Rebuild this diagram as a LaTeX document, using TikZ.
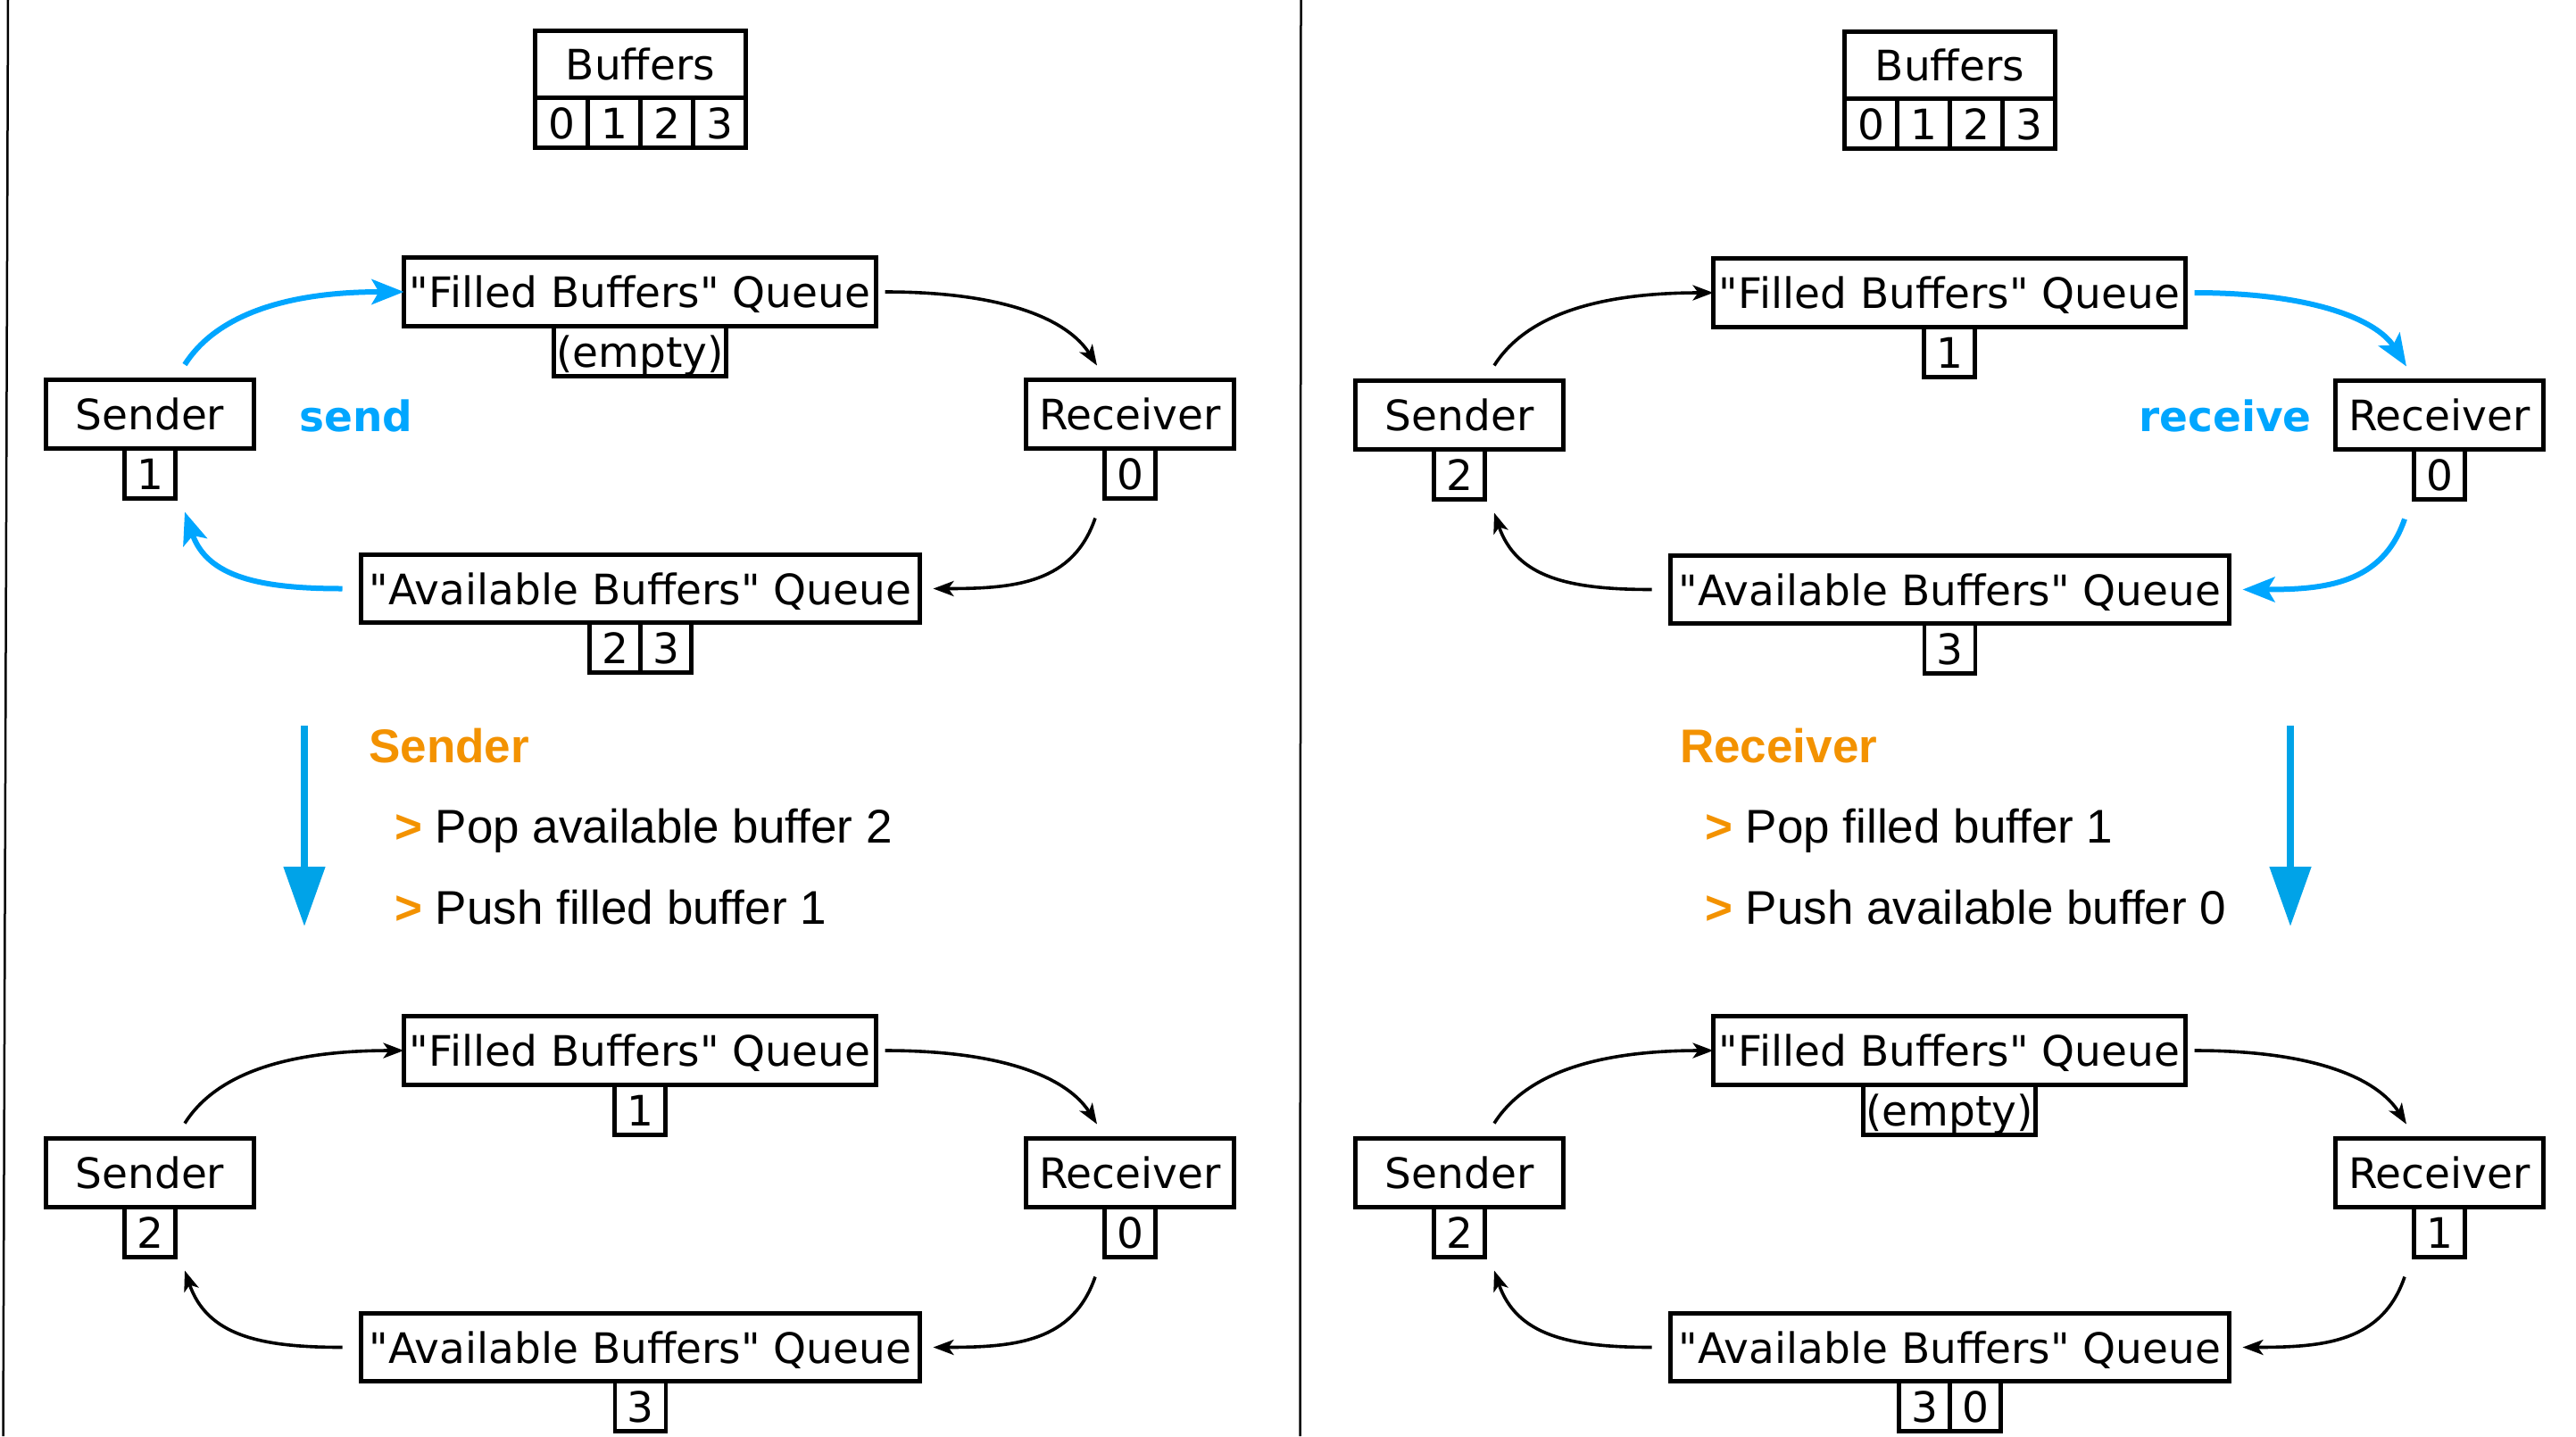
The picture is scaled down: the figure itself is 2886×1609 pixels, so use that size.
\documentclass[tikz,border=0pt]{standalone}
\usepackage{fontspec}
\setmainfont{DejaVu Sans}[Ligatures=TeXOff]
\newfontfamily\dvs{DejaVu Sans}[Ligatures=TeXOff]
\newfontfamily\arialf{Liberation Sans}[Ligatures=TeXOff]
\usetikzlibrary{arrows.meta,calc}
\definecolor{cblue}{RGB}{0,166,255}
\definecolor{cblue2}{RGB}{0,163,232}
\definecolor{corange}{RGB}{243,146,0}
\tikzset{
  qbox/.style={draw, line width=4.3pt, inner sep=0pt, outer sep=0pt,
    font=\dvs\fontsize{47}{56}\selectfont, text height=38pt, text depth=3pt, minimum height=77pt},
  cell/.style={draw, line width=4.3pt, inner sep=0pt, outer sep=0pt,
    font=\dvs\fontsize{47}{56}\selectfont, text height=38pt, text depth=3pt,
    minimum height=56pt, minimum width=57pt},
  bcell/.style={cell, minimum width=59pt},
  blk/.style={line width=3.6pt, -{Stealth[length=23pt,width=17pt,inset=6pt]}},
  blu/.style={cblue, line width=6pt, -{Stealth[length=36pt,width=28pt,inset=8pt]}},
  downarr/.style={cblue2, line width=8pt, -{Triangle[length=67pt,width=45pt]}},
  optext/.style={font=\dvs\bfseries\fontsize{47}{56}\selectfont, text=cblue, inner sep=0pt, anchor=base west},
  headtext/.style={font=\arialf\bfseries\fontsize{53}{64}\selectfont, text=corange, inner sep=0pt, anchor=base west},
  bullettext/.style={font=\arialf\fontsize{53}{64}\selectfont, inner sep=0pt, anchor=base west},
  divider/.style={line width=2.5pt}
}
\newcommand\mainboxes[1]{%
  \node[qbox, minimum width=529pt] (#1fq) at (717,327) {"Filled Buffers" Queue};
  \node[qbox, minimum width=626pt, minimum height=76pt] (#1aq) at (717.5,659.5) {"Available Buffers" Queue};
  \node[qbox, minimum width=233pt] (#1s) at (168,464) {Sender};
  \node[qbox, minimum width=233pt] (#1r) at (1266,464) {Receiver};
}
\newcommand\bufferbox[1]{%
  \node[qbox, minimum width=236pt, minimum height=75pt] (#1buf) at (717.5,72) {Buffers};
  \node[bcell, anchor=north east] (#1b1) at (#1buf.south) {1};
  \node[bcell, anchor=north west] (#1b2) at (#1buf.south) {2};
  \node[bcell, anchor=north east] (#1b0) at (#1b1.north west) {0};
  \node[bcell, anchor=north west] (#1b3) at (#1b2.north east) {3};
}
\newcommand\cyclearrows[5]{%
  \draw[#2] ($(#1s.north)+(39,-17)$) .. controls +(33,-52) and +(-139,0) .. (#1fq.west);
  \draw[#3] ($(#1fq.east)+(10,0)$) .. controls +(133,0) and +(-33,-52) .. ($(#1r.north)+(-37,-16)$);
  \draw[#4] ($(#1r.south)+(-39,78)$) .. controls +(-25,73) and +(92,0) .. ($(#1aq.east)+(15,0)$);
  \draw[#5] ($(#1aq.west)+(-21,0)$) .. controls +(-92,0) and +(25,73) .. ($(#1s.south)+(39,71)$);
}
\begin{document}
\begin{tikzpicture}[x=1pt,y=-1pt]
\useasboundingbox (0,0) rectangle (2886,1609);
\fill[white] (0,0) rectangle (2886,1609);
% dividers
\coordinate (dl1) at (9,0);
\coordinate (dl2) at (3.5,1609);
\coordinate (dm1) at (1457.5,0);
\coordinate (dm2) at (1456.5,1609);
\draw[divider] (dl1) -- (dl2);
\draw[divider] (dm1) -- (dm2);

% ---------- left top ----------
\bufferbox{L}
\mainboxes{L}
\node[cell, minimum width=193pt, anchor=north] (Lfqc) at (Lfq.south) {(empty)};
\node[cell, anchor=north] (Lsc) at (Ls.south) {1};
\node[cell, anchor=north] (Lrc) at (Lr.south) {0};
\node[cell, anchor=north east] (Laqc1) at (Laq.south) {2};
\node[cell, anchor=north west] (Laqc2) at (Laq.south) {3};
\cyclearrows{L}{blu}{blk}{blk}{blu}
\node[optext] (Lsend) at (335,483) {send};

% ---------- right top ----------
\begin{scope}[shift={(1467,1)}]
\bufferbox{R}
\mainboxes{R}
\node[cell, anchor=north] (Rfqc) at (Rfq.south) {1};
\node[cell, anchor=north] (Rsc) at (Rs.south) {2};
\node[cell, anchor=north] (Rrc) at (Rr.south) {0};
\node[cell, anchor=north] (Raqc) at (Raq.south) {3};
\cyclearrows{R}{blk}{blu}{blu}{blk}
\node[optext] (Rrecv) at (929,482) {receive};
\end{scope}

% ---------- left bottom ----------
\begin{scope}[shift={(0,850)}]
\mainboxes{LB}
\node[cell, anchor=north] (LBfqc) at (LBfq.south) {1};
\node[cell, anchor=north] (LBsc) at (LBs.south) {2};
\node[cell, anchor=north] (LBrc) at (LBr.south) {0};
\node[cell, anchor=north] (LBaqc) at (LBaq.south) {3};
\cyclearrows{LB}{blk}{blk}{blk}{blk}
\end{scope}

% ---------- right bottom ----------
\begin{scope}[shift={(1467,850)}]
\mainboxes{RB}
\node[cell, minimum width=193pt, anchor=north] (RBfqc) at (RBfq.south) {(empty)};
\node[cell, anchor=north] (RBsc) at (RBs.south) {2};
\node[cell, anchor=north] (RBrc) at (RBr.south) {1};
\node[cell, anchor=north east] (RBaqc1) at (RBaq.south) {3};
\node[cell, anchor=north west] (RBaqc2) at (RBaq.south) {0};
\cyclearrows{RB}{blk}{blk}{blk}{blk}
\end{scope}

% ---------- transition notes ----------
\coordinate (La1) at (341,813);
\coordinate (La2) at (341,1038);
\draw[downarr] (La1) -- (La2);
\node[headtext] (Lhead) at (413,854) {Sender};
\node[bullettext] (Lb1t) at (442,944) {{\bfseries\color{corange}>} Pop available buffer 2};
\node[bullettext] (Lb2t) at (442,1035) {{\bfseries\color{corange}>} Push filled buffer 1};

\coordinate (Ra1) at (2566,813);
\coordinate (Ra2) at (2566,1038);
\draw[downarr] (Ra1) -- (Ra2);
\node[headtext] (Rhead) at (1882,854) {Receiver};
\node[bullettext] (Rb1t) at (1910,944) {{\bfseries\color{corange}>} Pop filled buffer 1};
\node[bullettext] (Rb2t) at (1910,1035) {{\bfseries\color{corange}>} Push available buffer 0};
\end{tikzpicture}
\end{document}
